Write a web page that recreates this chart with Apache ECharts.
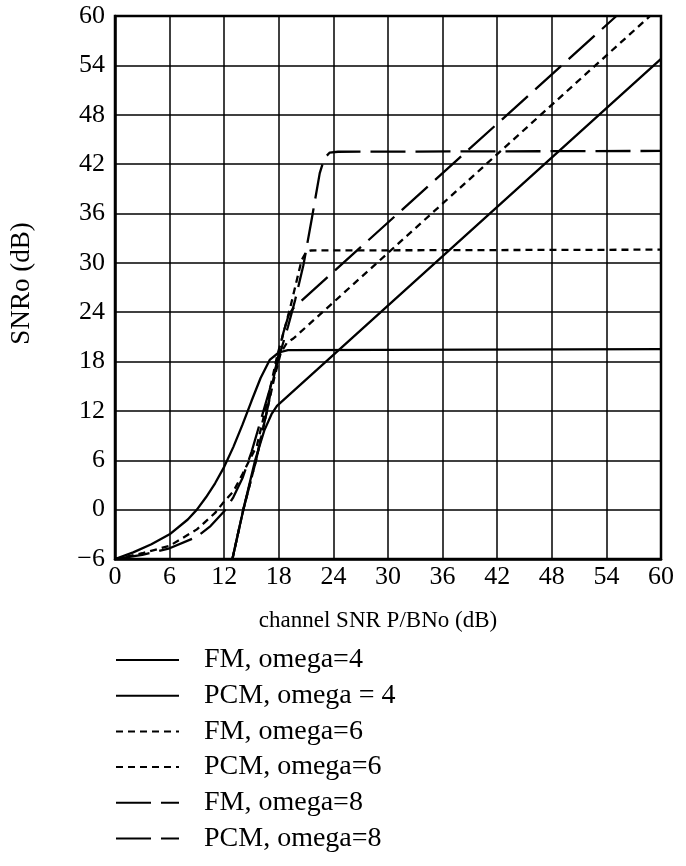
<!DOCTYPE html>
<html>
<head>
<meta charset="utf-8">
<script src="https://cdn.jsdelivr.net/npm/echarts@6/dist/echarts.min.js"></script>
<style>
html,body{margin:0;padding:0;background:#fff;}
#chart{width:686px;height:866px;}
</style>
</head>
<body>
<div id="chart"></div>
<script>
// ---- data ----
const xTicks = [0, 6, 12, 18, 24, 30, 36, 42, 48, 54, 60];
const yTicks = [-6, 0, 6, 12, 18, 24, 30, 36, 42, 48, 54, 60];
const seriesNames = ['FM, omega=4', 'PCM, omega = 4', 'FM, omega=6', 'PCM, omega=6', 'FM, omega=8', 'PCM, omega=8'];

const fm4 = [[12.9,-6],[14.1,0],[15.4,6],[16.4,9.6],[17.2,11.6],[17.8,12.6],[60,54.8]];
const pcm4 = [[0,-6],[2,-5.2],[4,-4.2],[6,-3],[8,-1.2],[9,0],[10,1.5],[11,3.2],[12,5.2],[13,7.6],[14,10.3],[15,13.2],[16,16],[17,18.2],[18,19.1],[19,19.4],[60,19.5]];
const fm6 = [[12.9,-6],[14.1,0],[15.5,6],[16.6,11.5],[17.5,16],[18.2,19],[18.9,20.3],[19.6,20.8],[58.8,60]];
const pcm6 = [[0,-6],[3,-5.3],[6,-4.4],[9,-2.4],[11,-0.4],[12,1],[13,2.2],[14,4.3],[15,6.5],[15.6,7.8],[16.5,12],[17.2,15.5],[17.8,18.6],[19.2,24.3],[20.5,30.3],[21,31.3],[21.5,31.5],[60,31.6]];
const fm8 = [[12.9,-6],[14.1,0],[15.5,6],[16.7,12],[17.7,17.5],[18.5,21.5],[19.1,23.7],[19.6,24.5],[55.1,60]];
const pcm8 = [[0,-6],[3,-5.5],[6,-4.7],[9,-3.3],[10.5,-2],[12,-0.2],[13,1.5],[14,3.8],[15,7],[16,10.8],[17,14.6],[18,18.5],[19,22.2],[19.8,25.5],[20.7,29.7],[21.6,35.2],[22.5,40.9],[23,42.7],[23.6,43.4],[24.5,43.5],[60,43.6]];

// ---- chart ----
const FONT = 'Liberation Serif';
const solid = 'solid', shortDash = [7, 5], longDash = [35, 10];
const datasets = [fm4, pcm4, fm6, pcm6, fm8, pcm8];
const dashes = [solid, solid, shortDash, shortDash, longDash, longDash];

const chart = echarts.init(document.getElementById('chart'), null, {renderer: 'canvas'});
chart.setOption({
  backgroundColor: '#fff',
  animation: false,
  grid: {left: 115, right: 25, top: 16, bottom: 307, show: true, borderColor: '#000', borderWidth: 2.5, backgroundColor: 'transparent'},
  legend: {
    orient: 'vertical', left: 110, top: 641,
    itemWidth: 63, itemHeight: 14, itemGap: 7.7,
    itemStyle: {opacity: 0},
    textStyle: {fontFamily: FONT, fontSize: 28, color: '#000', lineHeight: 28, padding: [0, 0, 0, 20]},
    data: seriesNames
  },
  xAxis: {
    type: 'value', min: xTicks[0], max: xTicks[xTicks.length - 1], interval: xTicks[1] - xTicks[0],
    name: 'channel SNR P/BNo (dB)', nameLocation: 'middle', nameGap: 50,
    nameTextStyle: {fontFamily: FONT, fontSize: 23, color: '#000', padding: [0, 20, 0, 0]},
    axisLine: {show: true, onZero: false, lineStyle: {color: '#000', width: 2.5}},
    axisTick: {show: false},
    axisLabel: {fontFamily: FONT, fontSize: 26, color: '#000', margin: 5},
    splitLine: {show: true, lineStyle: {color: '#000', width: 1.5}}
  },
  yAxis: {
    type: 'value', min: yTicks[0], max: yTicks[yTicks.length - 1], interval: yTicks[1] - yTicks[0],
    name: 'SNRo (dB)', nameLocation: 'middle', nameGap: 80, nameRotate: 90,
    nameTextStyle: {fontFamily: FONT, fontSize: 27, color: '#000', padding: [0, 0, 0, 8]},
    axisLine: {show: true, onZero: false, lineStyle: {color: '#000', width: 2.5}},
    axisTick: {show: false},
    axisLabel: {fontFamily: FONT, fontSize: 26, color: '#000', margin: 10,
      formatter: v => String(v).replace('-', '\u2212')},
    splitLine: {show: true, lineStyle: {color: '#000', width: 1.5}}
  },
  series: seriesNames.map((n, i) => ({
    name: n, type: 'line', data: datasets[i], symbol: 'none', smooth: false, clip: true,
    lineStyle: {color: '#000', width: 2.3, type: dashes[i]},
    itemStyle: {color: '#000'},
    z: 3 + i
  }))
});
</script>
</body>
</html>
